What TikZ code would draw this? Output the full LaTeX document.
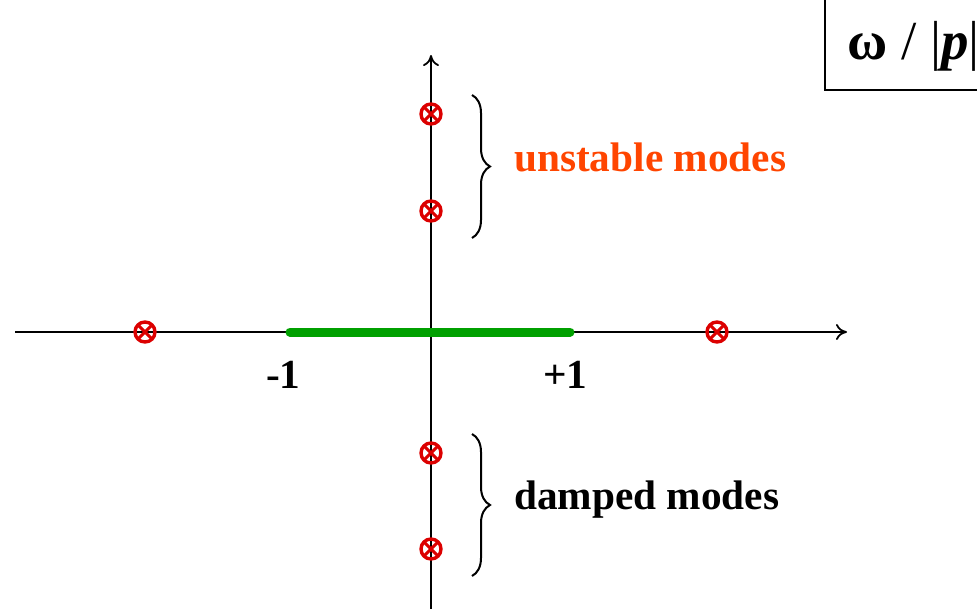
\documentclass[tikz,border=0pt]{standalone}
\usepackage{fontspec}
\setmainfont{Liberation Serif}
\usetikzlibrary{arrows.meta,decorations.pathreplacing}
\definecolor{polered}{RGB}{220,0,0}
\definecolor{txtorange}{RGB}{255,69,0}
\definecolor{segreen}{RGB}{0,160,0}
\begin{document}
\begin{tikzpicture}[x=1pt,y=-1pt,
  axis/.style={line width=2pt,-{To[length=11pt,width=16pt,line width=1.8pt]}},
  pole/.style={circle,draw=polered,line width=3.4pt,minimum size=20pt,inner sep=0pt,
    path picture={\draw[polered,line width=3pt]
      (path picture bounding box.north west) -- (path picture bounding box.south east)
      (path picture bounding box.north east) -- (path picture bounding box.south west);}},
  bracestyle/.style={line width=2pt,decorate,decoration={brace,amplitude=18pt}},
  bigtext/.style={font=\fontsize{41.3}{47}\selectfont\bfseries,inner sep=0pt},
  lbl/.style={anchor=base west,bigtext}
]
\useasboundingbox (0,0) rectangle (977,608);
\clip (0,0) rectangle (977,608);
% axes
\coordinate (xl) at (15,332);
\coordinate (xr) at (847,332);
\coordinate (yb) at (431,612);
\coordinate (yt) at (431,55);
\draw[axis] (xl) -- (xr);
\draw[axis] (yb) -- (yt);
% green cut
\coordinate (m1) at (290,332);
\coordinate (p1) at (570,332);
\draw[segreen,line width=9pt,line cap=round] (m1) -- (p1);
% poles
\node[pole] (u1) at (431,114) {};
\node[pole] (u2) at (431,211) {};
\node[pole] (l1) at (145,332) {};
\node[pole] (r1) at (717,332) {};
\node[pole] (d1) at (431,453) {};
\node[pole] (d2) at (431,549) {};
% braces
\coordinate (ub1) at (472,95);
\coordinate (ub2) at (472,238);
\coordinate (db1) at (472,434);
\coordinate (db2) at (472,576);
\draw[bracestyle] (ub1) -- (ub2);
\draw[bracestyle] (db1) -- (db2);
% labels
\node[lbl,text=txtorange] (ut) at (514,171) {unstable modes};
\node[lbl] (dt) at (514,509) {damped modes};
\node[lbl] (mt) at (266,388) {-1};
\node[lbl] (pt) at (543,388) {+1};
% box
\coordinate (bx1) at (825,0);
\coordinate (bx2) at (825,90);
\coordinate (bx3) at (980,90);
\draw[line width=1.2pt] (bx1) -- (bx2) -- (bx3);
\node[anchor=base west,inner sep=0pt,font=\fontsize{55}{61}\selectfont] (om) at (847,59) {\textbf{ω} / |\textbf{\textit{p}}|};
\end{tikzpicture}
\end{document}
